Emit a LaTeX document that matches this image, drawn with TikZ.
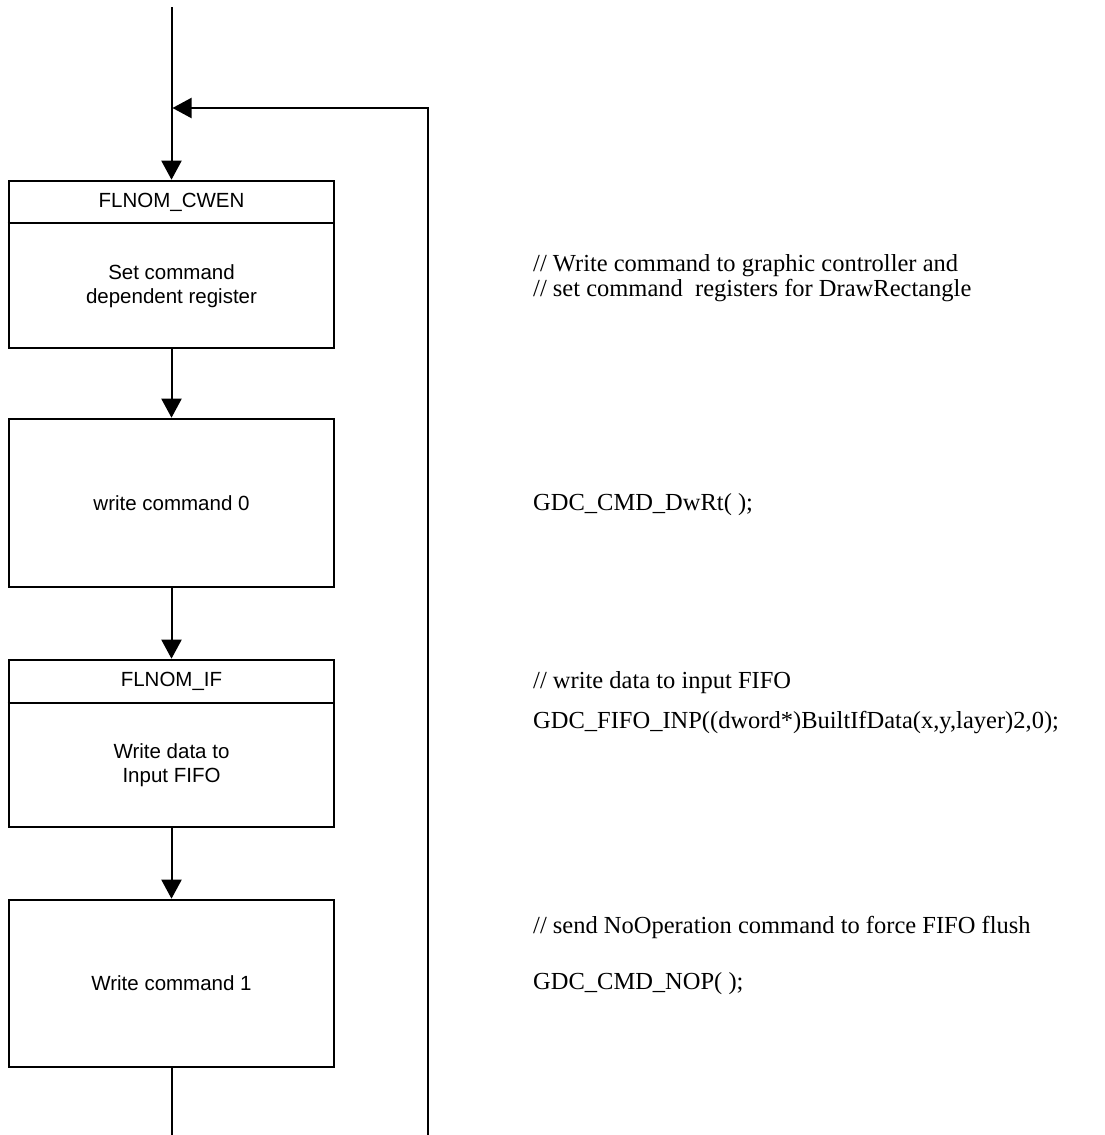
\documentclass[tikz,border=0pt]{standalone}
\usepackage{fontspec}
\setmainfont{Liberation Serif}
\newfontfamily\arialfont{Liberation Sans}
\usetikzlibrary{arrows.meta}
\begin{document}
\begin{tikzpicture}[x=1pt,y=-1pt,
  box/.style={draw, line width=2.6pt, minimum width=325pt, inner sep=0pt},
  divider/.style={line width=2.6pt},
  boxtext/.style={font=\arialfont\fontsize{20.5}{24}\selectfont, align=center, inner sep=0pt},
  conn/.style={line width=2pt},
  arr/.style={conn, -{Triangle[length=19pt 0 0, width=20pt 0 0]}},
  note/.style={font=\fontsize{24.5}{25}\selectfont, anchor=base west, inner sep=0pt}]
\useasboundingbox (0,0) rectangle (1104,1135);
% boxes
\node[box, minimum height=167pt] (b1) at (171.5,264.5) {};
\node[box, minimum height=168pt] (b2) at (171.5,503) {};
\node[box, minimum height=167pt] (b3) at (171.5,743.5) {};
\node[box, minimum height=167pt] (b4) at (171.5,983.5) {};
\draw[divider] (b1.west |- 0,223) -- (b1.east |- 0,223);
\draw[divider] (b3.west |- 0,703) -- (b3.east |- 0,703);
% box texts
\node[boxtext] (h1) at (171.5,202) {FLNOM\_CWEN};
\node[boxtext] (t1) at (171.5,286) {Set command\\dependent register};
\node[boxtext] (t2) at (171.5,503) {write command 0};
\node[boxtext] (h3) at (171.5,681.5) {FLNOM\_IF};
\node[boxtext] (t3) at (171.5,765) {Write data to\\Input FIFO};
\node[boxtext] (t4) at (171.5,983.5) {Write command 1};
% connectors
\coordinate (top) at (171.5,7);
\coordinate (join) at (172.5,108);
\coordinate (fbbot) at (428,1135);
\coordinate (exit) at (171.5,1135);
\draw[arr] (top) -- (b1.north);
\draw[arr] (b1.south) -- (b2.north);
\draw[arr] (b2.south) -- (b3.north);
\draw[arr] (b3.south) -- (b4.north);
\draw[conn] (b4.south) -- (exit);
\draw[arr] (fbbot) |- (join);
% notes
\node[note] (n1a) at (533,271) {// Write command to graphic controller and};
\node[note] (n1b) at (533,296) {// set command\ \ registers for DrawRectangle};
\node[note] (n2) at (533,510) {GDC\_CMD\_DwRt( );};
\node[note] (n3) at (533,688) {// write data to input FIFO};
\node[note] (n4) at (533,728) {GDC\_FIFO\_INP((dword*)BuiltIfData(x,y,layer)2,0);};
\node[note] (n5) at (533,933) {// send NoOperation command to force FIFO flush};
\node[note] (n6) at (533,989) {GDC\_CMD\_NOP( );};
\end{tikzpicture}
\end{document}
